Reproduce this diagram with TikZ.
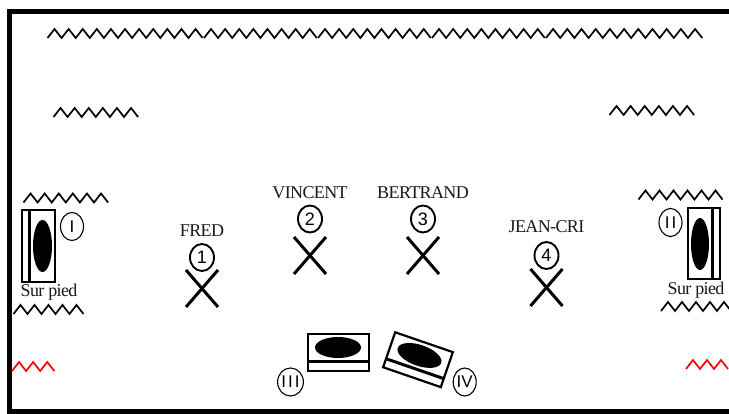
\documentclass[tikz,border=0pt]{standalone}
\usepackage{fontspec}
\setmainfont[LetterSpace=-3.5]{Liberation Serif}
\newfontfamily\numfont{Liberation Sans}
\newfontfamily\romfont[LetterSpace=12]{Liberation Sans}
\usetikzlibrary{shapes.geometric}
\newcommand{\zig}[5][black]{% color, x, y, period, teeth
  \draw[zigline,#1] (#2,#3)
  \foreach \i in {1,...,#5} { -- ++(#4/2,-9) -- ++(#4/2,9) };}
\tikzset{
  x=1pt,y=-1pt,
  zigline/.style={line width=1.7pt,line join=miter},
  frameline/.style={line width=5pt},
  lbl/.style={font=\fontsize{18}{18}\selectfont,inner sep=0pt,text=black!90},
  ring/.style={draw,line width=1.9pt,ellipse,minimum width=24pt,minimum height=27pt,inner sep=0pt,font=\numfont\fontsize{18}{18}\selectfont},
  thinring/.style={draw,line width=1.1pt,ellipse,minimum width=23pt,minimum height=28pt,inner sep=0pt,font=\romfont\fontsize{17}{17}\selectfont},
  cross/.style={line width=3pt},
  box/.style={draw,line width=2.2pt,fill=white,inner sep=0pt},
  divider/.style={line width=3pt},
  blob/.style={fill=black,ellipse,inner sep=0pt},
}
\begin{document}
\begin{tikzpicture}
\useasboundingbox (0,0) rectangle (729,414);
% frame
\draw[frameline] (729,12) -- (9.5,12) -- (9.5,411.5) -- (729,411.5);
% top waves
\zig{47.5}{38}{14.1}{11}
\zig{204}{38}{14.1}{8}
\zig{318}{38}{14.1}{8}
\zig{432}{38}{14.1}{8}
\zig{546}{38}{14.2}{11}
% upper side waves
\zig{53.5}{117}{14.1}{6}
\zig{609.5}{115}{14.1}{6}
% around stands
\zig{23.5}{202.5}{14.1}{6}
\zig{13.5}{314}{14}{5}
\zig{638.5}{199.5}{14}{6}
\zig{661}{311}{14}{5}
% red
\zig[red]{12}{371}{14.1}{3}
\zig[red]{686}{369}{14}{3}
% stand I
\node[box,minimum width=32.5pt,minimum height=71.5pt] (s1) at (38.5,246) {};
\draw[divider] (29.3,209) -- (29.3,283);
\node[blob,minimum width=19pt,minimum height=52pt] (b1) at (42.5,246) {};
\node[thinring] (r1) at (72,226.5) {\numfont I};
\node[lbl] (t1) at (49,292) {Sur pied};
% stand II
\node[box,minimum width=32.5pt,minimum height=71.5pt] (s2) at (704,243.5) {};
\draw[divider] (712,207) -- (712,280);
\node[blob,minimum width=18pt,minimum height=52pt] (b2) at (700,244) {};
\node[thinring] (r2) at (670.5,222.5) {II};
\node[lbl] (t2) at (696,290) {Sur pied};
% stand III
\node[box,minimum width=61pt,minimum height=37pt] (s3) at (338.5,352.5) {};
\draw[divider] (307,362) -- (370,362);
\node[blob,minimum width=46pt,minimum height=21pt] (b3) at (338,347.5) {};
\node[thinring] (r3) at (290.5,382) {III};
% stand IV
\begin{scope}[shift={(418,359.7)},rotate=-19,transform shape]
\node[box,minimum width=61pt,minimum height=37pt] (s4) at (0,0) {};
\draw[divider] (-31,9.5) -- (31,9.5);
\node[blob,minimum width=46pt,minimum height=21pt] (b4) at (0,-4.5) {};
\end{scope}
\node[thinring] (r4) at (464.7,382) {\numfont IV};
% players
\foreach \nm/\lab/\n/\px/\py/\ly/\ct in {a/FRED/1/202/257.5/231/270,b/VINCENT/2/310/219/193/237,c/BERTRAND/3/423/219/193/237,d/JEAN-CRI/4/546.5/255.5/227/269}{
  \node[lbl] (l\nm) at (\px,\ly) {\lab};
  \node[ring] (n\nm) at (\px,\py) {\n};
  \draw[cross] (\px-16,\ct) -- (\px+16,\ct+37);
  \draw[cross] (\px+16,\ct) -- (\px-16,\ct+37);
}
\end{tikzpicture}
\end{document}
